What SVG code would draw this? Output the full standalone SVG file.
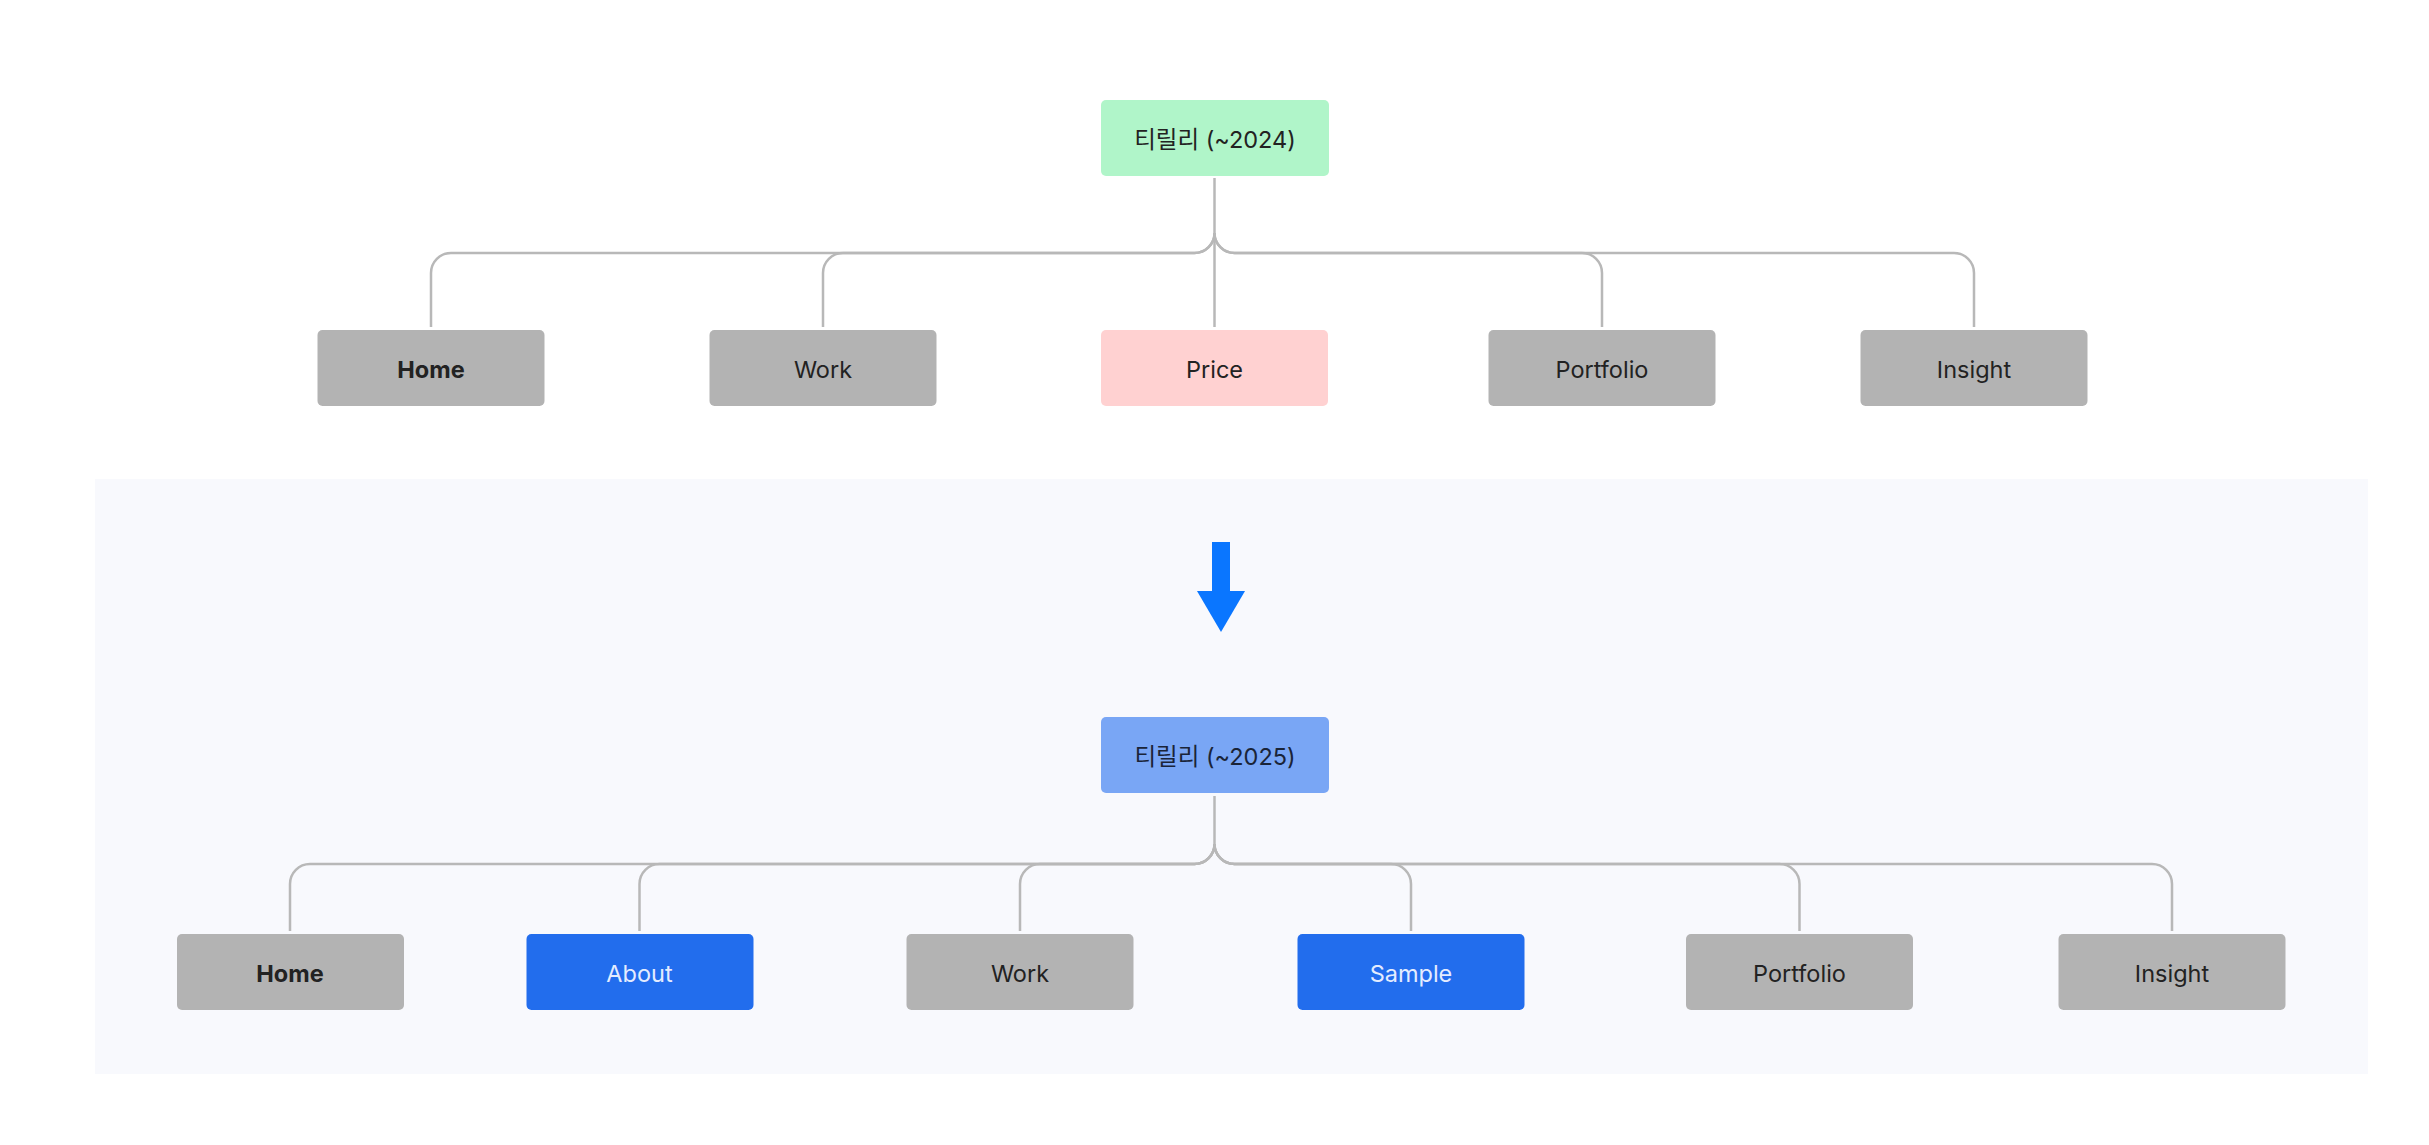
<svg xmlns="http://www.w3.org/2000/svg" width="2429" height="1145" viewBox="0 0 2429 1145">
<style>
.lbl{font-family:Inter,"Noto Sans CJK KR","Noto Sans",sans-serif;font-size:23.5px;text-anchor:middle;dominant-baseline:central;fill:#222}
.bold{font-weight:700}
.light{fill:#e4ecff}
.gray{fill:#b3b3b3}
.blue{fill:#226ded}
.conn path{fill:none;stroke:#b8b8b8;stroke-width:2.5;stroke-linecap:butt}
</style>
<rect x="0" y="0" width="2429" height="1145" fill="#ffffff"/>
<rect x="95" y="479" width="2273" height="595" fill="#f8f9fd"/>

<g id="connectors" class="conn">
  <path d="M1214.5 178 V327"/>
  <path d="M1214.5 233 A20 20 0 0 1 1194.5 253 H451 A20 20 0 0 0 431 273 V327"/>
  <path d="M1214.5 233 A20 20 0 0 1 1194.5 253 H843 A20 20 0 0 0 823 273 V327"/>
  <path d="M1214.5 233 A20 20 0 0 0 1234.5 253 H1582 A20 20 0 0 1 1602 273 V327"/>
  <path d="M1214.5 233 A20 20 0 0 0 1234.5 253 H1954 A20 20 0 0 1 1974 273 V327"/>
  <path d="M1214.5 796 V844"/>
  <path d="M1214.5 844 A20 20 0 0 1 1194.5 864 H310 A20 20 0 0 0 290 884 V931"/>
  <path d="M1214.5 844 A20 20 0 0 1 1194.5 864 H659.5 A20 20 0 0 0 639.5 884 V931"/>
  <path d="M1214.5 844 A20 20 0 0 1 1194.5 864 H1040 A20 20 0 0 0 1020 884 V931"/>
  <path d="M1214.5 844 A20 20 0 0 0 1234.5 864 H1391 A20 20 0 0 1 1411 884 V931"/>
  <path d="M1214.5 844 A20 20 0 0 0 1234.5 864 H1779.5 A20 20 0 0 1 1799.5 884 V931"/>
  <path d="M1214.5 844 A20 20 0 0 0 1234.5 864 H2152 A20 20 0 0 1 2172 884 V931"/>
</g>

<g id="arrow">
  <rect x="1212" y="542" width="18" height="50" fill="#0a76ff"/>
  <polygon points="1197,591 1245,591 1221,632" fill="#0a76ff"/>
</g>

<g id="root2024">
  <rect x="1101" y="100" width="228" height="76" rx="5" fill="#b0f5c9"/>
  <text class="lbl" x="1215" y="139.5">티릴리 (~2024)</text>
</g>
<g id="top-home">
  <rect class="gray" x="317.5" y="330" width="227" height="76" rx="5"/>
  <text class="lbl bold" x="431" y="369.5">Home</text>
</g>
<g id="top-work">
  <rect class="gray" x="709.5" y="330" width="227" height="76" rx="5"/>
  <text class="lbl" x="823" y="369.5">Work</text>
</g>
<g id="top-price">
  <rect x="1101" y="330" width="227" height="76" rx="5" fill="#ffd1d1"/>
  <text class="lbl" x="1214.5" y="369.5">Price</text>
</g>
<g id="top-portfolio">
  <rect class="gray" x="1488.5" y="330" width="227" height="76" rx="5"/>
  <text class="lbl" x="1602" y="369.5">Portfolio</text>
</g>
<g id="top-insight">
  <rect class="gray" x="1860.5" y="330" width="227" height="76" rx="5"/>
  <text class="lbl" x="1974" y="369.5">Insight</text>
</g>

<g id="root2025">
  <rect x="1101" y="717" width="228" height="76" rx="5" fill="#79a6f5"/>
  <text class="lbl" x="1215" y="756.5" style="fill:#1a2438">티릴리 (~2025)</text>
</g>
<g id="bot-home">
  <rect class="gray" x="177" y="934" width="227" height="76" rx="5"/>
  <text class="lbl bold" x="290" y="973.5">Home</text>
</g>
<g id="bot-about">
  <rect class="blue" x="526.5" y="934" width="227" height="76" rx="5"/>
  <text class="lbl light" x="639.5" y="973.5">About</text>
</g>
<g id="bot-work">
  <rect class="gray" x="906.5" y="934" width="227" height="76" rx="5"/>
  <text class="lbl" x="1020" y="973.5">Work</text>
</g>
<g id="bot-sample">
  <rect class="blue" x="1297.5" y="934" width="227" height="76" rx="5"/>
  <text class="lbl light" x="1411" y="973.5">Sample</text>
</g>
<g id="bot-portfolio">
  <rect class="gray" x="1686" y="934" width="227" height="76" rx="5"/>
  <text class="lbl" x="1799.5" y="973.5">Portfolio</text>
</g>
<g id="bot-insight">
  <rect class="gray" x="2058.5" y="934" width="227" height="76" rx="5"/>
  <text class="lbl" x="2172" y="973.5">Insight</text>
</g>
</svg>
